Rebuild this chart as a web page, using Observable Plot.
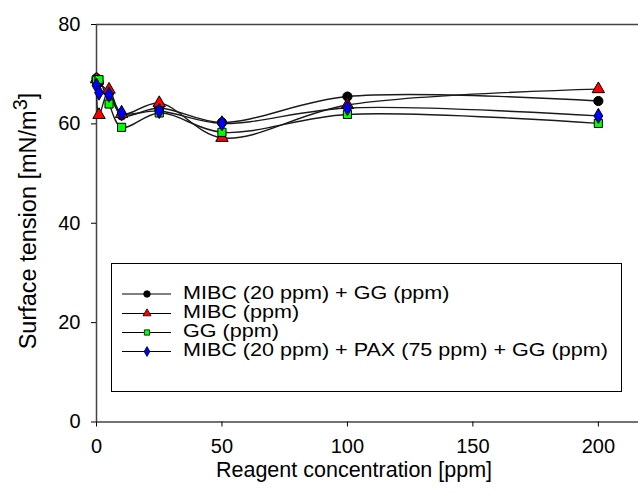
<!DOCTYPE html>
<html>
<head>
<meta charset="utf-8">
<script src="https://cdn.jsdelivr.net/npm/d3@7"></script>
<script src="https://cdn.jsdelivr.net/npm/@observablehq/plot@0.6"></script>
<style>
  html, body { margin: 0; padding: 0; background: #fff; }
  #wrap { position: relative; width: 638px; height: 502px; font-family: "Liberation Sans", Arial, sans-serif; }
  #legend { position: absolute; left: 111px; top: 263px; width: 511px; height: 129px; border: 1px solid #000; background: #fff; box-sizing: border-box; }
</style>
</head>
<body>
<div id="wrap"></div>
<script>
// ---- data ----
const concentrations = [0, 1, 5, 10, 25, 50, 100, 200];
const seriesNames = [
  "MIBC (20 ppm) + GG (ppm)",
  "MIBC (ppm)",
  "GG (ppm)",
  "MIBC (20 ppm) + PAX (75 ppm) + GG (ppm)"
];
const mibcGG     = [69.2, 68.3, 66.3, 61.7, 63.2, 60.3, 65.5, 64.6];
const mibc       = [69.0, 61.8, 66.9, 62.0, 64.2, 57.2, 63.8, 67.0];
const gg         = [68.8, 68.9, 64.0, 59.3, 62.2, 58.3, 61.9, 60.1];
const mibcPaxGG  = [67.7, 66.3, 65.9, 62.2, 62.6, 60.1, 63.2, 61.6];
const xTicks = [0, 50, 100, 150, 200];
const yTicks = [0, 20, 40, 60, 80];
const seriesFills = ["#000000", "#ff0000", "#00ff00", "#0000ff"];
const seriesSymbols = ["circle", "triangle", "square", "diamond"];

const allSeries = [mibcGG, mibc, gg, mibcPaxGG];
const rows = [];
allSeries.forEach((vals, si) => {
  vals.forEach((v, i) => rows.push({series: seriesNames[si], x: concentrations[i], y: v}));
});

const font = '"Liberation Sans", Arial, sans-serif';
const axisColor = "#444";

const chart = Plot.plot({
  width: 638,
  height: 502,
  marginLeft: 96,
  marginRight: 0,
  marginTop: 24,
  marginBottom: 80.5,
  style: {fontFamily: font, fontSize: "20px", background: "white", color: "#000"},
  x: {domain: [0, 216], label: null},
  y: {domain: [0, 80], label: null},
  color: {domain: seriesNames, range: seriesFills},
  symbol: {domain: seriesNames, range: seriesSymbols},
  marks: [
    Plot.ruleY([80], {stroke: axisColor, strokeWidth: 1.5}),
    Plot.ruleY([0], {stroke: axisColor, strokeWidth: 1.5}),
    Plot.ruleX([0], {stroke: axisColor, strokeWidth: 1.5}),
    Plot.axisX({ticks: xTicks, tickSize: 5, tickPadding: 12, stroke: "#000", fontSize: 20, fill: "#000", label: null}),
    Plot.axisY({ticks: yTicks, tickSize: 5, tickPadding: 11, stroke: "#000", fontSize: 20, fill: "#000", label: null}),
    Plot.line(rows, {x: "x", y: "y", z: "series", stroke: "#1a1a1a", strokeWidth: 1.4, curve: "catmull-rom"}),
    Plot.dot(rows, {x: "x", y: "y", symbol: "series", fill: "series", stroke: "#000", strokeWidth: 1, r: 4.6})
  ]
});

const wrap = document.getElementById("wrap");
wrap.appendChild(chart);

// axis titles
const svg = d3.select(chart);
svg.append("text")
  .attr("x", 354).attr("y", 477)
  .attr("text-anchor", "middle")
  .attr("font-family", font).attr("font-size", 21.5).attr("fill", "#000")
  .text("Reagent concentration [ppm]");
const yl = svg.append("text")
  .attr("transform", "translate(36,221) rotate(-90)")
  .attr("text-anchor", "middle")
  .attr("font-family", font).attr("font-size", 23.5).attr("fill", "#000");
yl.append("tspan").text("Surface tension [mN/m");
yl.append("tspan").attr("dy", -9).attr("font-size", 20).text("3");
yl.append("tspan").attr("dy", 9).text("]");

// legend
const legend = document.createElement("div");
legend.id = "legend";
wrap.appendChild(legend);
const lsvg = d3.select(legend).append("svg").attr("width", 509).attr("height", 127)
  .style("position", "absolute").style("left", "0px").style("top", "0px");
const legendRowY = [30, 49.5, 68.5, 87.5];
const legendSymbols = [d3.symbolCircle, d3.symbolTriangle, d3.symbolSquare, d3.symbolDiamond];
const sx = 1.135;
seriesNames.forEach((name, i) => {
  const g = lsvg.append("g").attr("transform", `translate(0,${legendRowY[i]})`);
  g.append("line").attr("x1", 10).attr("x2", 59).attr("y1", 0).attr("y2", 0).attr("stroke", "#000").attr("stroke-width", 1.2);
  g.append("path")
    .attr("transform", "translate(35,0)")
    .attr("d", d3.symbol(legendSymbols[i]).size(i === 0 ? 34 : 28)())
    .attr("fill", seriesFills[i]).attr("stroke", "#000").attr("stroke-width", 0.8);
  g.append("text").attr("transform", `translate(71,4.5) scale(${sx},1)`)
    .attr("font-family", font).attr("font-size", 19).attr("fill", "#000").text(name);
});
</script>
</body>
</html>
